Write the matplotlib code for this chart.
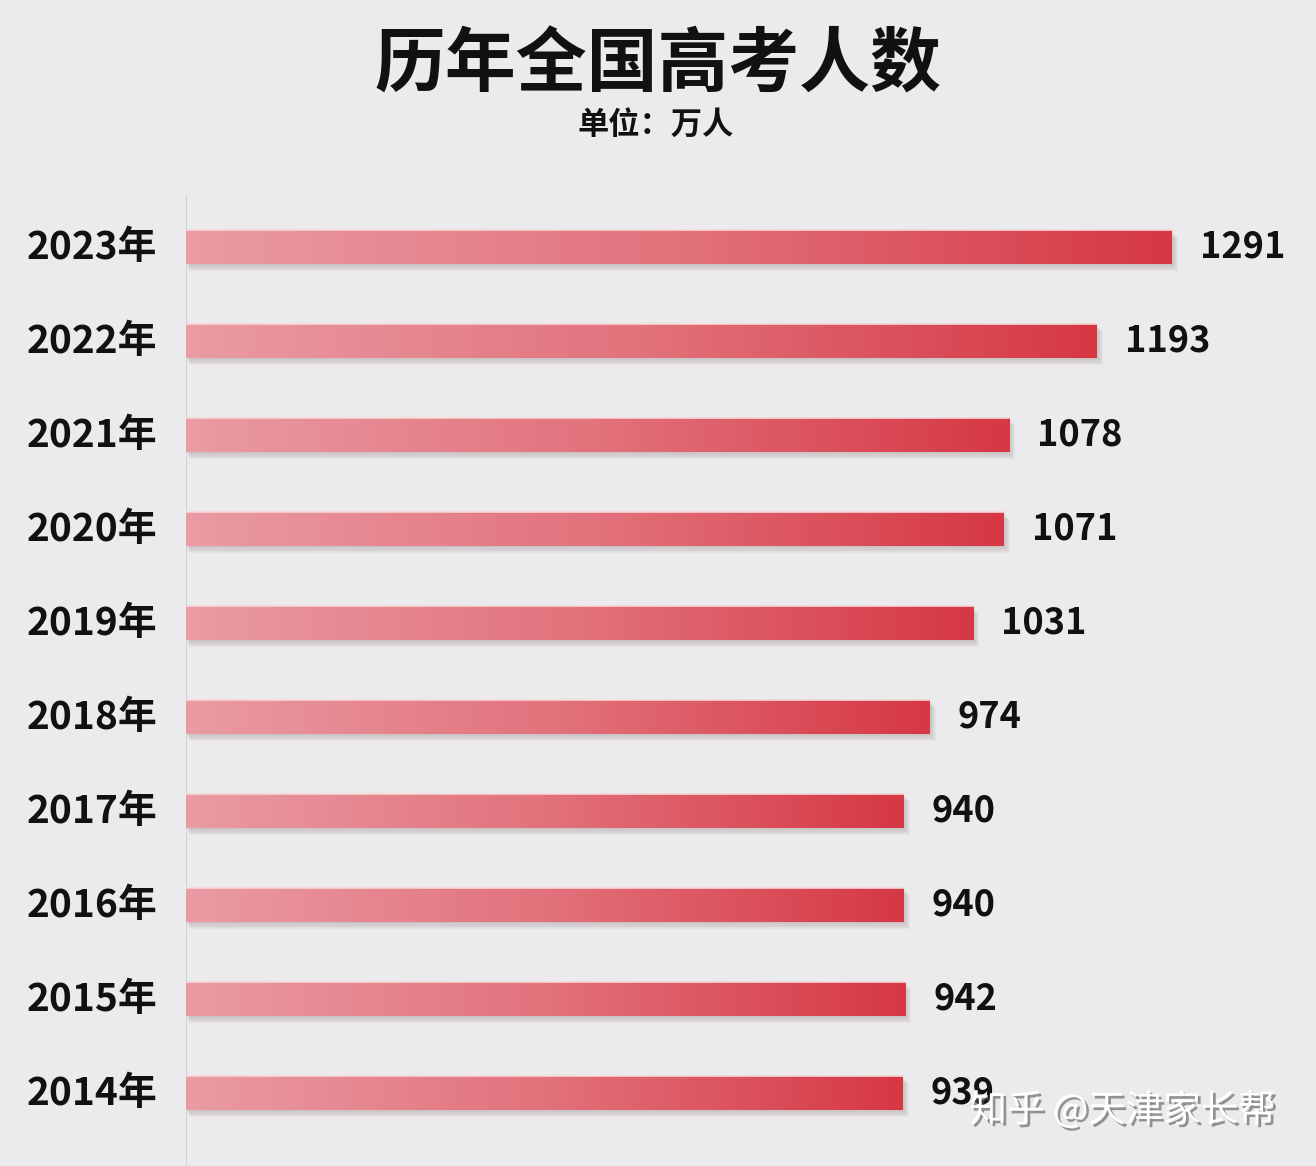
import numpy as np
import matplotlib.pyplot as plt
import matplotlib.patheffects as pe
from matplotlib.patches import Rectangle
from matplotlib.colors import LinearSegmentedColormap

plt.rcParams['font.family'] = ['Noto Sans CJK SC', 'DejaVu Sans']

# data
years = ['2023年', '2022年', '2021年', '2020年', '2019年',
         '2018年', '2017年', '2016年', '2015年', '2014年']
counts = [1291, 1193, 1078, 1071, 1031, 974, 940, 940, 942, 939]

title = '历年全国高考人数'
unit_text = '单位：万人'
watermark = '知乎 @天津家长帮'

bg = '#ebebed'
grad = LinearSegmentedColormap.from_list('bar', ['#ea9ba3', '#e2727c', '#d63844'])

fig = plt.figure(figsize=(13.16, 11.66), dpi=100, facecolor=bg)
ax = fig.add_axes([186 / 1316, 0, 1 - 186 / 1316, 1 - 195 / 1166])
ax.set_facecolor(bg)

px = 1480 / (1316 - 186)  # data units per pixel on x
py = 1 / 94.0              # data units per pixel on y
h = 0.36

pos = np.arange(len(years))
bars = ax.barh(pos, counts, height=h, color='none', edgecolor='none', zorder=3)

gimg = np.linspace(0, 1, 256).reshape(1, -1)
for i, (b, v) in enumerate(zip(bars, counts)):
    # soft shadow under the bar
    for k in range(1, 7):
        ax.add_patch(Rectangle((k * 0.6 * px, i - h / 2 + k * 1.2 * py), v + k * 0.4 * px, h,
                               facecolor='#7a5a5e', edgecolor='none', alpha=0.05, zorder=2))
    im = ax.imshow(gimg, cmap=grad, aspect='auto', interpolation='bicubic',
                   extent=(0, v, i + h / 2, i - h / 2), zorder=3)
    im.set_clip_path(b)
    # thin light highlight on the top edge
    ax.plot([0, v], [i - h / 2, i - h / 2], color='#f6d6d6', lw=1.2, zorder=4)

    ax.text(-29 * px, i, years[i], ha='right', va='center', fontsize=28,
            fontweight='bold', color='#111111', clip_on=False)
    ax.text(v + 28 * px, i, str(v), ha='left', va='center', fontsize=26,
            fontweight='bold', color='#111111', zorder=5)

ax.axvline(0, color='#cfcfd2', lw=1.3, zorder=1)

ax.set_xlim(0, 1480)
ax.set_ylim((1166 - 247) / 94.0, (195 - 247) / 94.0)
for s in ax.spines.values():
    s.set_visible(False)
ax.set_xticks([])
ax.set_yticks([])

fig.text(0.4996, 1 - 65 / 1166, title, ha='center', va='center', fontsize=51,
         fontweight='heavy', color='#111111')
fig.text(0.4985, 1 - 125 / 1166, unit_text, ha='center', va='center', fontsize=22.5,
         fontweight='bold', color='#111111')

fig.text(0.853, 1 - 1111 / 1166, watermark, ha='center', va='center', fontsize=27,
         color='white', zorder=10,
         path_effects=[pe.withSimplePatchShadow(offset=(2, -2), shadow_rgbFace='#555555', alpha=0.6)])

fig.savefig('out.png', dpi=100, facecolor=bg)
